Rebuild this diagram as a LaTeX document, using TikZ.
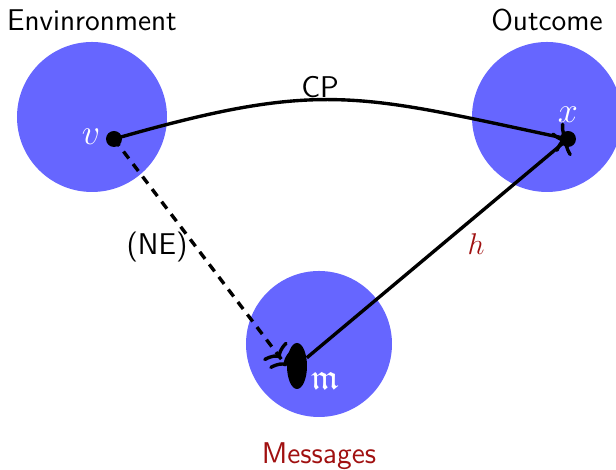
\documentclass[tikz,border=0pt]{standalone}
\usepackage{amssymb}
\usetikzlibrary{shapes.geometric,arrows.meta}
\definecolor{setblue}{HTML}{6666FF}
\definecolor{labelred}{HTML}{A01010}
\begin{document}
\begin{tikzpicture}[x=0.4pt,y=-0.4pt,
  setdisk/.style={circle,fill=setblue,inner sep=0pt},
  dot/.style={circle,fill=black,inner sep=0pt,minimum size=6.4pt},
  msgdot/.style={ellipse,fill=black,inner sep=0pt,minimum width=8pt,minimum height=18.4pt},
  title/.style={font=\large\sffamily},
  pt/.style={text=white,font=\Large},
  link/.style={line width=1.35pt},
  tip/.style={-{To[length=4pt,width=12pt]}},
  twotips/.style={-{To[length=4pt,width=12pt]To[length=4pt,width=12pt]}}]
\useasboundingbox (0,0) rectangle (616,470);
% the three sets
\node[setdisk,minimum size=60pt] (env) at (92,117) {};
\node[setdisk,minimum size=60pt] (out) at (547,117) {};
\node[setdisk,minimum size=58.4pt] (msg) at (319,344) {};
% set titles
\node[title] (envt) at (92,20) {Envinronment};
\node[title] (outt) at (547,20) {Outcome};
\node[title,text=labelred] (msgt) at (319,456) {Messages};
% points
\node[dot] (v) at (114,139) {};
\node[dot] (x) at (568,139) {};
\node[msgdot] (m) at (297,366) {};
\node[pt] (vl) at (91,137) {$v$};
\node[pt] (xl) at (568,115) {$x$};
\node[pt] (ml) at (325,381) {$\mathfrak{m}$};
% maps
\draw[link,tip] (v.center) to[out=16,in=168,looseness=1.22] (x.center);
\draw[link,dash pattern=on 3.5pt off 2.8pt,twotips] (v.center) -- (m.west);
\draw[link,tip] (m) -- (x.center);
% map labels
\node[font=\large\sffamily] (cp) at (320,87) {CP};
\node[font=\large\sffamily] (ne) at (157,247) {(NE)};
\node[font=\large,text=labelred] (h) at (476,244) {$h$};
\end{tikzpicture}
\end{document}
